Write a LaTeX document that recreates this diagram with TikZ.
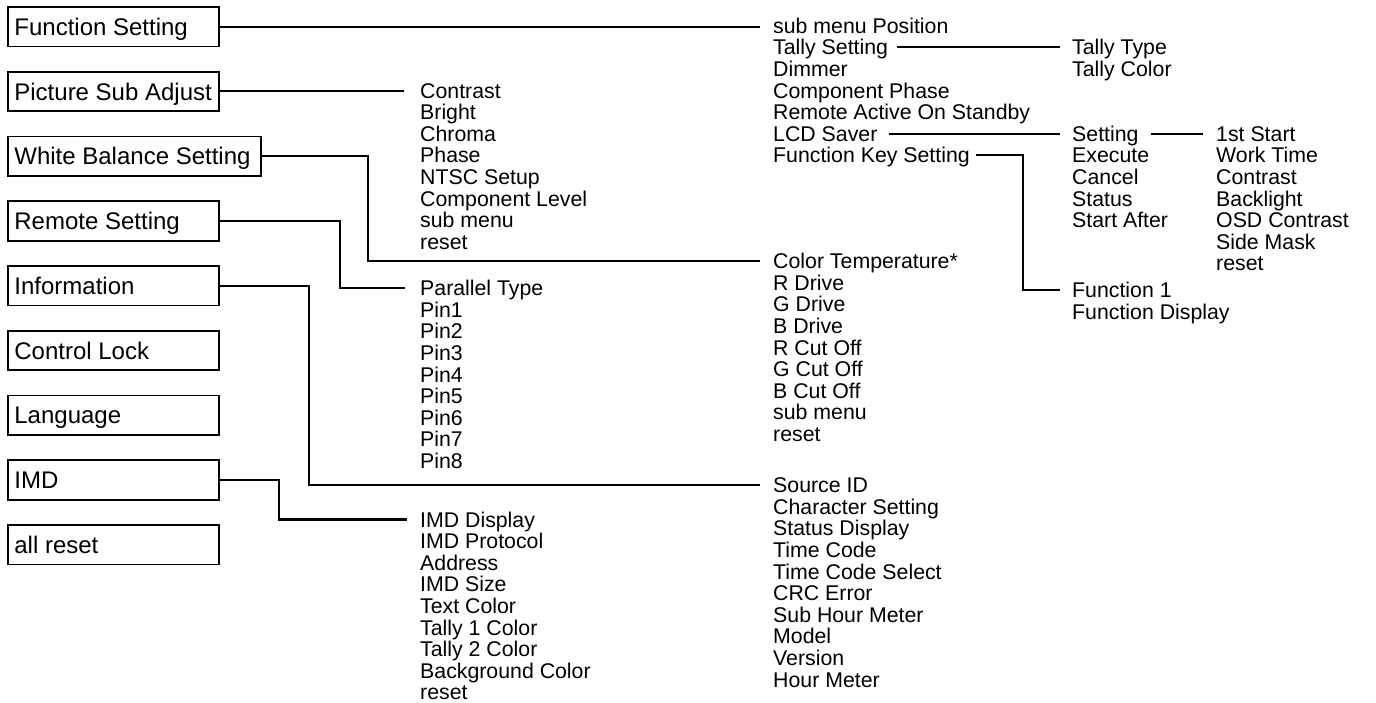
\documentclass[tikz,border=0pt]{standalone}
\usepackage{fontspec}
\setmainfont{Liberation Sans}
\newcommand\menulist[4]{%
  \foreach \mytxt [count=\myi] in {#4}{%
    \node[item] (#1-\myi) at (#2,{#3+(\myi-1)*21.6}) {\mytxt};}}
\newcommand\bxt[2][198pt]{\makebox[#1][l]{#2}}
\tikzset{
  box/.style={draw, line width=1.8pt, anchor=north west, minimum height=39.5pt,
    inner xsep=6.5pt, inner ysep=0pt,
    font=\fontsize{24}{28}\selectfont, text height=17.2pt, text depth=0pt},
  item/.style={anchor=west, inner sep=0pt, font=\fontsize{21.3}{24}\selectfont,
    text height=15.25pt, text depth=0pt},
  conn/.style={line width=2.1pt},
}
\begin{document}
\begin{tikzpicture}[x=1pt,y=-1pt]
\useasboundingbox (0,0) rectangle (1376,702);
% main menu boxes
\node[box] (fs)  at (7,6)      {\bxt{Function Setting}};
\node[box] (ps)  at (7,70.75)  {\bxt{Picture Sub Adjust}};
\node[box] (wb)  at (7,135.5)  {\bxt[240pt]{White Balance Setting}};
\node[box] (rs)  at (7,200.25) {\bxt{Remote Setting}};
\node[box] (inf) at (7,265)    {\bxt{Information}};
\node[box] (cl)  at (7,329.75) {\bxt{Control Lock}};
\node[box] (lg)  at (7,394.5)  {\bxt{Language}};
\node[box] (imd) at (7,459.25) {\bxt{IMD}};
\node[box] (ar)  at (7,524)    {\bxt{all reset}};
% sub menus
\menulist{fsl}{773}{25.75}{sub menu Position,Tally Setting,Dimmer,Component Phase,Remote Active On Standby,LCD Saver,Function Key Setting}
\menulist{psl}{420}{90.5}{Contrast,Bright,Chroma,Phase,NTSC Setup,Component Level,sub menu,reset}
\menulist{wbl}{773}{261}{Color Temperature*,R Drive,G Drive,B Drive,R Cut Off,G Cut Off,B Cut Off,sub menu,reset}
\menulist{rsl}{420}{288}{Parallel Type,Pin1,Pin2,Pin3,Pin4,Pin5,Pin6,Pin7,Pin8}
\menulist{infl}{773}{485}{Source ID,Character Setting,Status Display,Time Code,Time Code Select,CRC Error,Sub Hour Meter,Model,Version,Hour Meter}
\menulist{imdl}{420}{519.5}{IMD Display,IMD Protocol,Address,IMD Size,Text Color,Tally 1 Color,Tally 2 Color,Background Color,reset}
\menulist{tal}{1072}{47.35}{Tally Type,Tally Color}
\menulist{lcd}{1072}{133.75}{Setting,Execute,Cancel,Status,Start After}
\menulist{set}{1216}{133.75}{1st Start,Work Time,Contrast,Backlight,OSD Contrast,Side Mask,reset}
\menulist{fk}{1072}{290}{Function 1,Function Display}
% connectors
\draw[conn] (fs.east) -- ([xshift=-13pt]fs.east -| fsl-1.west);
\draw[conn] (ps.east) -- ([xshift=-16pt]ps.east -| psl-1.west);
\draw[conn] (wb.east) -- ++(106,0) |- ([xshift=-13pt]wbl-1.west);
\draw[conn] (rs.east) -- ++(120,0) |- ([xshift=-15pt]rsl-1.west);
\draw[conn] (inf.east) -- ++(89,0) |- ([xshift=-13pt]infl-1.west);
\draw[conn] (imd.east) -- ++(59,0) |- ([xshift=-13pt]imdl-1.west);
\draw[conn] ([xshift=9pt]fsl-2.east) -- ([xshift=-12pt]fsl-2.east -| tal-1.west);
\draw[conn] ([xshift=11pt]fsl-6.east) -- ([xshift=-12pt]fsl-6.east -| lcd-1.west);
\draw[conn] ([xshift=12pt]lcd-1.east) -- ([xshift=-13pt]lcd-1.east -| set-1.west);
\draw[conn] ([xshift=6pt]fsl-7.east) -- ++(47,0) |- ([xshift=-12pt]fk-1.west);
\end{tikzpicture}
\end{document}
